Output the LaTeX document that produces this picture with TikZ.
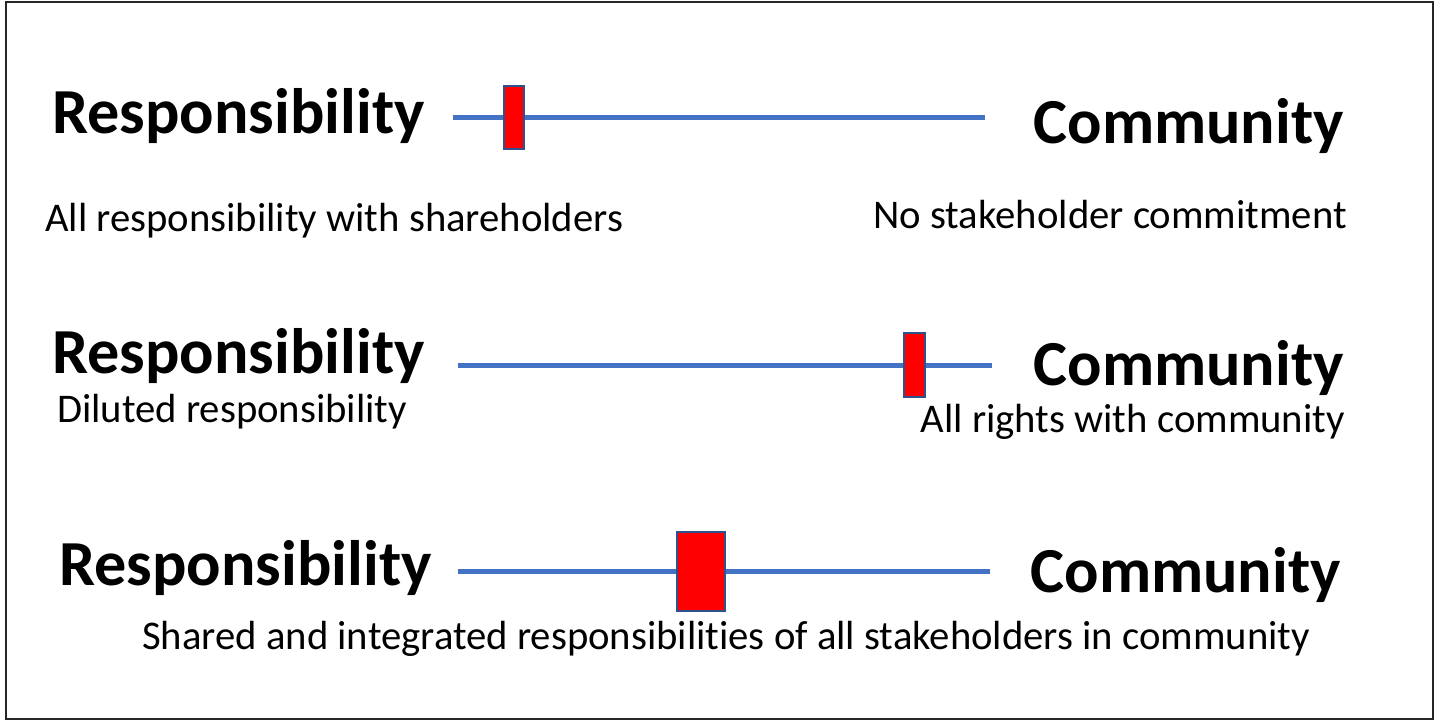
\documentclass[tikz,border=0pt]{standalone}
\usepackage{fontspec}
\setmainfont[Ligatures=NoCommon]{Carlito}
\definecolor{lineblue}{HTML}{4472C4}
\definecolor{edgeblue}{HTML}{2F528F}
\tikzset{
  big/.style={font=\fontsize{64.2}{70}\selectfont\bfseries, inner sep=0pt},
  small/.style={font=\fontsize{40.7}{46}\selectfont, inner sep=0pt},
  scale line/.style={draw=lineblue, line width=5pt},
  markerbox/.style={draw=edgeblue, line width=2pt, fill=red}
}
\begin{document}
\begin{tikzpicture}[x=1pt,y=-1pt]
\useasboundingbox (0,0) rectangle (1435,721);
\draw[line width=2pt, draw=black!85] (6,2) rectangle (1433,719);

% row 1
\node[big, anchor=base west] (r1) at (52,133) {Responsibility};
\node[big, anchor=base east] (c1) at (1344,143) {Community};
\node[small, anchor=base west] (s1a) at (45,231) {All responsibility with shareholders};
\node[small, anchor=base east] (s1b) at (1347,228) {No stakeholder commitment};
\coordinate (l1a) at (453,117);
\coordinate (l1b) at (985,117);
\draw[scale line] (l1a) -- (l1b);
\draw[markerbox] (504,86) rectangle (524,149);

% row 2
\node[big, anchor=base west] (r2) at (52,373) {Responsibility};
\node[big, anchor=base east] (c2) at (1344,385) {Community};
\node[small, anchor=base west] (s2a) at (57,422) {Diluted responsibility};
\node[small, anchor=base east] (s2b) at (1345,432) {All rights with community};
\coordinate (l2a) at (458,365);
\coordinate (l2b) at (992,365);
\draw[scale line] (l2a) -- (l2b);
\draw[markerbox] (904,333) rectangle (925,397);

% row 3
\node[big, anchor=base west] (r3) at (59,585) {Responsibility};
\node[big, anchor=base east] (c3) at (1341,592) {Community};
\node[small, anchor=base west] (s3) at (142,649) {Shared and integrated responsibilities of all stakeholders in community};
\coordinate (l3a) at (458,571);
\coordinate (l3b) at (990,571);
\draw[scale line] (l3a) -- (l3b);
\draw[markerbox] (677,532) rectangle (725,611);
\end{tikzpicture}
\end{document}
